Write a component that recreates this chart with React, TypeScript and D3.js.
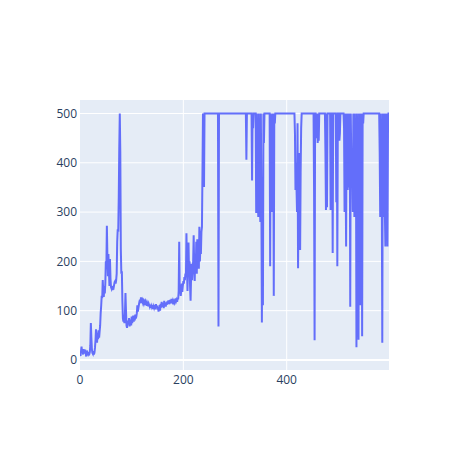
import React from 'react';
import { scaleLinear, line, extent } from 'd3';

// episode rewards, one per episode (index = x)
const rewards: number[] = [
  12, 8, 18, 27, 14, 20, 11, 22, 16, 13, 21, 15, 7, 19, 10, 14, 11, 13, 12, 16,
  30, 75, 45, 22, 14, 12, 18, 11, 15, 25, 40, 62, 48, 35, 55, 42, 60, 45, 58, 70,
  95, 110, 130, 125, 162, 140, 128, 150, 135, 155, 200, 185, 272, 210, 170, 215, 180, 150, 205, 165,
  148, 145, 150, 142, 147, 146, 152, 158, 160, 155, 162, 175, 240, 265, 260, 330, 430, 500, 420, 225,
  175, 180, 120, 85, 78, 82, 75, 95, 136, 100, 70, 65, 75, 80, 72, 85, 68, 78, 82, 70,
  88, 75, 82, 90, 78, 85, 80, 92, 84, 88, 95, 111, 98, 105, 112, 118, 122, 115, 127, 120,
  118, 121, 116, 119, 114, 117, 112, 118, 115, 110, 116, 113, 109, 114, 111, 108, 112, 106, 110, 107,
  111, 104, 109, 106, 112, 103, 108, 113, 105, 110, 102, 107, 98, 104, 111, 100, 114, 106, 118, 108,
  112, 116, 105, 120, 110, 115, 108, 117, 112, 119, 114, 121, 116, 113, 122, 118, 115, 124, 119, 117,
  121, 118, 123, 117, 120, 125, 119, 122, 118, 126, 123, 140, 240, 135, 148, 130, 142, 155, 138, 150,
  160, 155, 168, 162, 175, 170, 257, 190, 140, 180, 238, 175, 200, 150, 120, 170, 195, 162, 185, 200,
  253, 190, 160, 215, 180, 240, 175, 245, 195, 210, 185, 270, 200, 230, 215, 260, 270, 380, 500, 490,
  351, 500, 500, 500, 500, 500, 500, 500, 500, 500, 500, 500, 500, 500, 500, 500, 500, 500, 500, 500,
  500, 500, 500, 500, 500, 500, 500, 500, 68, 500, 500, 500, 500, 500, 500, 500, 500, 500, 500, 500,
  500, 500, 500, 500, 500, 500, 500, 500, 500, 500, 500, 500, 500, 500, 500, 500, 500, 500, 500, 500,
  500, 500, 500, 500, 500, 500, 500, 500, 500, 500, 500, 500, 500, 500, 500, 500, 500, 500, 500, 500,
  500, 500, 406, 500, 500, 500, 500, 500, 500, 500, 500, 500, 500, 364, 500, 470, 500, 500, 500, 500,
  500, 298, 500, 310, 340, 290, 500, 300, 320, 280, 500, 330, 76, 300, 111, 500, 440, 500, 500, 500,
  500, 500, 500, 500, 500, 500, 500, 500, 190, 500, 460, 440, 300, 500, 480, 130, 500, 480, 500, 500,
  500, 500, 500, 500, 500, 500, 500, 500, 500, 500, 500, 500, 500, 500, 500, 500, 500, 500, 500, 500,
  500, 500, 500, 500, 500, 500, 500, 500, 500, 500, 500, 500, 500, 500, 500, 500, 460, 345, 400, 350,
  300, 480, 186, 330, 420, 290, 223, 380, 470, 500, 500, 500, 500, 500, 500, 500, 500, 500, 500, 500,
  500, 500, 500, 500, 500, 500, 500, 500, 500, 500, 500, 500, 500, 340, 40, 500, 500, 480, 450, 500,
  440, 470, 445, 500, 500, 500, 500, 500, 500, 500, 500, 500, 500, 500, 500, 420, 304, 500, 310, 500,
  500, 500, 500, 500, 500, 304, 420, 500, 500, 217, 500, 500, 500, 500, 500, 500, 320, 500, 190, 500,
  500, 500, 445, 460, 500, 500, 500, 500, 500, 500, 500, 470, 300, 500, 380, 230, 500, 420, 345, 500,
  350, 470, 500, 108, 500, 405, 430, 400, 300, 500, 410, 290, 500, 330, 460, 26, 500, 240, 300, 41,
  500, 230, 500, 111, 300, 500, 48, 500, 480, 500, 500, 500, 500, 500, 500, 500, 500, 500, 500, 500,
  500, 500, 500, 500, 500, 500, 500, 500, 500, 500, 500, 500, 500, 500, 500, 500, 500, 500, 500, 500,
  420, 290, 500, 300, 350, 35, 500, 290, 330, 500, 300, 230, 500, 470, 500, 230, 460, 500, 500,
];

const xTicks = [0, 200, 400];
const yTicks = [0, 100, 200, 300, 400, 500];

const width = 469;
const height = 450;
const margin = { top: 100, right: 80, bottom: 80, left: 80 };
const font = '"Open Sans", verdana, arial, sans-serif';
const tickColor = '#2a3f5f';

export default function App() {
  const left = margin.left;
  const right = width - margin.right;
  const top = margin.top;
  const bottom = height - margin.bottom;

  const x = scaleLinear().domain([0, rewards.length - 1]).range([left, right]);
  const [lo, hi] = extent(rewards) as [number, number];
  const pad = ((hi - lo) * 0.05) / 0.9;
  const y = scaleLinear().domain([lo - pad, hi + pad]).range([bottom, top]);

  const path = line<number>()
    .x((d, i) => x(i))
    .y((d) => y(d))(rewards);

  return (
    <svg
      width={width}
      height={height}
      style={{ position: 'absolute', left: 0, top: 0, background: '#fff' }}
    >
      <defs>
        <clipPath id="plot-clip">
          <rect x={left} y={top} width={right - left} height={bottom - top} />
        </clipPath>
      </defs>
      <rect x={left} y={top} width={right - left} height={bottom - top} fill="#e5ecf6" />

      {xTicks
        .filter((t) => t !== 0)
        .map((t) => (
          <line key={'gx' + t} x1={x(t)} x2={x(t)} y1={top} y2={bottom} stroke="#fff" strokeWidth={1} />
        ))}
      {yTicks.map((t) => (
        <line
          key={'gy' + t}
          x1={left}
          x2={right}
          y1={y(t)}
          y2={y(t)}
          stroke="#fff"
          strokeWidth={t === 0 ? 2 : 1}
        />
      ))}

      <path d={path || ''} fill="none" stroke="#636efa" strokeWidth={2} clipPath="url(#plot-clip)" />

      {xTicks.map((t) => (
        <text
          key={'tx' + t}
          x={x(t)}
          y={bottom + 13.5}
          textAnchor="middle"
          fontFamily={font}
          fontSize={12}
          fill={tickColor}
        >
          {t}
        </text>
      ))}
      {yTicks.map((t) => (
        <text
          key={'ty' + t}
          x={left - 3}
          y={y(t) + 4.3}
          textAnchor="end"
          fontFamily={font}
          fontSize={12}
          fill={tickColor}
        >
          {t}
        </text>
      ))}
    </svg>
  );
}
